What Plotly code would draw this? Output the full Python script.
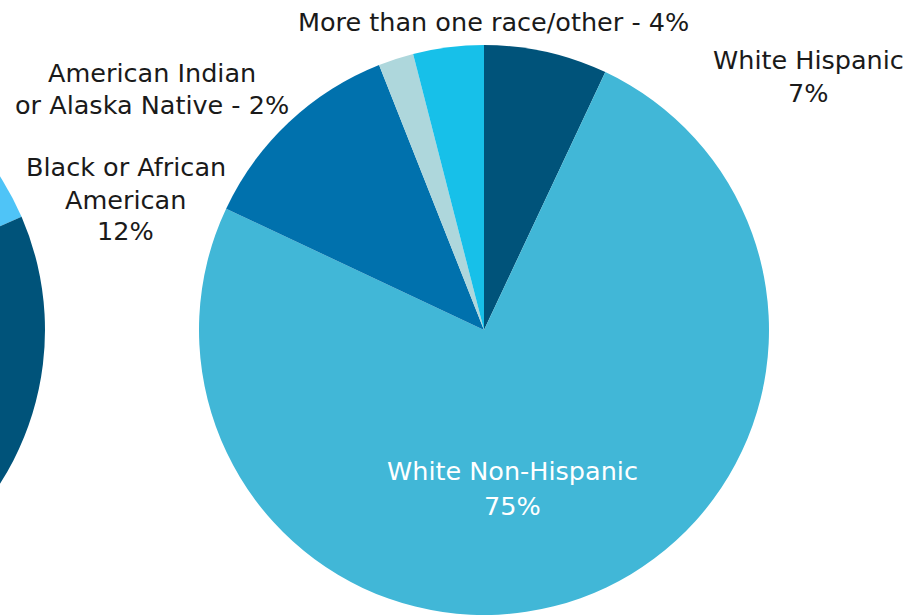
import plotly.graph_objects as go

# ---- data ----
categories = ["White Hispanic", "White Non-Hispanic", "Black or African American",
              "American Indian or Alaska Native", "More than one race/other"]
shares = [7, 75, 12, 2, 4]
slice_colors = ["#00537A", "#41B7D7", "#0071AD", "#AED7DC", "#17C0E9"]

# neighbouring (mostly off-canvas) pie
left_categories = ["Group A", "Group B", "Group C"]
left_shares = [18.5, 45, 36.5]
left_colors = ["#4FC4F7", "#00537A", "#0071AD"]

# ---- layout helpers (pixel -> paper) ----
SHIFT = 530            # canvas shifted left so the neighbouring pie is cut by the window edge
W, H = 910 + SHIFT, 616
R = 285
FONT = "DejaVu Sans, Verdana, sans-serif"
FSIZE = 25.5


def px(x):
    return (SHIFT + x) / W


def py(y):
    return 1 - y / H


def pie_domain(cx, cy):
    return dict(x=[px(cx - R), px(cx + R)], y=[py(cy + R), py(cy - R)])


fig = go.Figure()
fig.add_trace(go.Pie(
    labels=left_categories, values=left_shares, sort=False, direction="clockwise",
    rotation=0, marker=dict(colors=left_colors, line=dict(width=0)),
    textinfo="none", hoverinfo="label+percent", showlegend=False,
    domain=pie_domain(-240, 330)))
fig.add_trace(go.Pie(
    labels=categories, values=shares, sort=False, direction="clockwise",
    rotation=0, marker=dict(colors=slice_colors, line=dict(width=0)),
    textinfo="none", hoverinfo="label+percent", showlegend=False,
    domain=pie_domain(484, 330)))

# label text built from the data; one annotation per text line
lab = dict(zip(categories, shares))
label_specs = [
    ("White Hispanic", "{c}<br>{v}%", 808, [60.5, 93], "#1a1a1a"),
    ("White Non-Hispanic", "{c}<br>{v}%", 512, [471, 506], "#ffffff"),
    ("Black or African American", "Black or African<br>American<br>{v}%", 125.5, [167.5, 200, 231], "#1a1a1a"),
    ("American Indian or Alaska Native", "American Indian<br>or Alaska Native - {v}%", 152, [72.5, 105], "#1a1a1a"),
    ("More than one race/other", "{c} - {v}%", 493, [22.5], "#1a1a1a"),
]
annotations = []
for cat, fmt, x, ys, col in label_specs:
    lines = fmt.format(c=cat, v=lab[cat]).split("<br>")
    for line, y in zip(lines, ys):
        annotations.append(dict(
            text=line, x=px(x), y=py(y), xref="paper", yref="paper",
            xanchor="center", yanchor="middle", showarrow=False, align="center",
            font=dict(family=FONT, size=FSIZE, color=col)))

fig.update_layout(
    width=W, height=H, margin=dict(l=0, r=0, t=0, b=0),
    paper_bgcolor="white", plot_bgcolor="white",
    annotations=annotations)

post = ("var gd=document.getElementById('{plot_id}');"
        "document.body.style.margin='0';document.body.style.overflow='hidden';"
        "gd.style.position='absolute';gd.style.left='-" + str(SHIFT) + "px';gd.style.top='0px';")
fig.write_html("out.html", post_script=post, config={"displayModeBar": False})
